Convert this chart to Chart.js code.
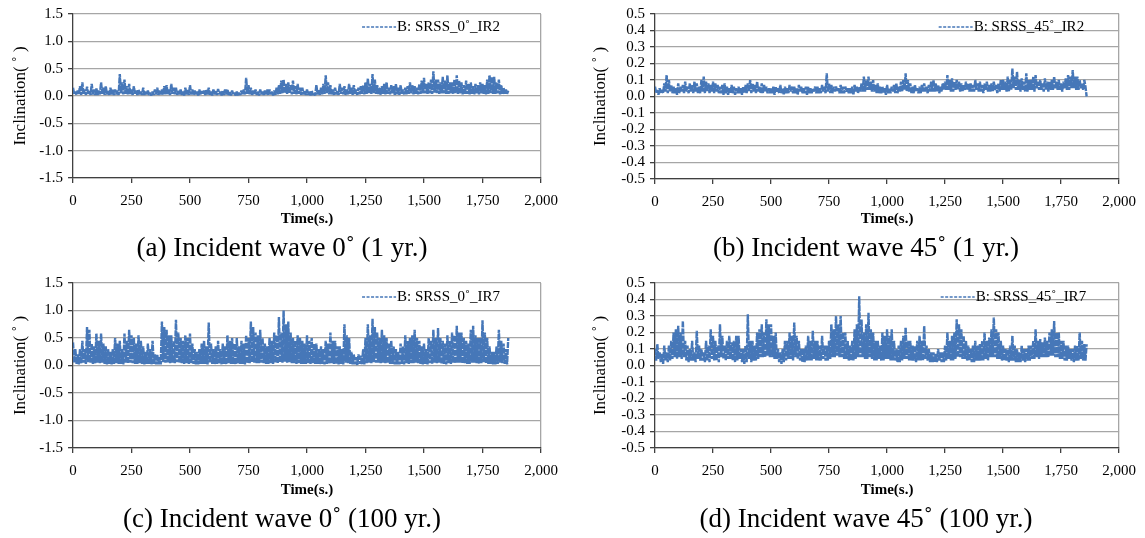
<!DOCTYPE html>
<html>
<head>
<meta charset="utf-8">
<script src="https://cdn.jsdelivr.net/npm/chart.js@4.4.1/dist/chart.umd.min.js"></script>
<style>
  html, body { margin: 0; padding: 0; background: #ffffff; }
  body { position: relative; width: 1145px; height: 538px; overflow: hidden; font-family: "Liberation Serif", "Times New Roman", serif; }
  .panel { position: absolute; }
  .panel canvas { display: block; }
  .caption { position: absolute; font-size: 27px; line-height: 30px; color: #000; white-space: nowrap; transform: translateX(-50%); }
</style>
</head>
<body>
<div class="panel" id="panelA"><canvas id="chartA"></canvas></div>
<div class="panel" id="panelB"><canvas id="chartB"></canvas></div>
<div class="panel" id="panelC"><canvas id="chartC"></canvas></div>
<div class="panel" id="panelD"><canvas id="chartD"></canvas></div>
<div class="caption" style="left:282px; top:232px;">(a) Incident wave 0˚ (1 yr.)</div>
<div class="caption" style="left:866px; top:232px;">(b) Incident wave 45˚ (1 yr.)</div>
<div class="caption" style="left:282px; top:503px;">(c) Incident wave 0˚ (100 yr.)</div>
<div class="caption" style="left:866px; top:503px;">(d) Incident wave 45˚ (100 yr.)</div>

<script>
// Sampling interval of the recorded inclination signals (seconds)
const SAMPLE_STEP_S = 5;

// Time axis ticks (s)
const timeTicks = [0, 250, 500, 750, 1000, 1250, 1500, 1750, 2000];
// Inclination axis ticks (deg)
const inclTicksWide = [-1.5, -1.0, -0.5, 0.0, 0.5, 1.0, 1.5];
const inclTicksNarrow = [-0.5, -0.4, -0.3, -0.2, -0.1, 0.0, 0.1, 0.2, 0.3, 0.4, 0.5];

// Series labels
const labelA = 'B: SRSS_0˚_IR2';
const labelB = 'B: SRSS_45˚_IR2';
const labelC = 'B: SRSS_0˚_IR7';
const labelD = 'B: SRSS_45˚_IR7';

// SRSS inclination, incident wave 0°, 1-year condition (deg), t = 0 ... 1860 s, one row per 100 s
const srss0IR2 = [
  0.15,0.03,0.08,0.02,0.10,0.04,0.18,0.02,0.25,0.03,0.12,0.02,0.17,0.04,0.09,0.02,0.22,0.03,0.12,0.02,
  0.14,0.02,0.10,0.03,0.25,0.04,0.15,0.02,0.18,0.03,0.09,0.02,0.15,0.03,0.12,0.02,0.12,0.03,0.10,0.02,
  0.40,0.05,0.25,0.03,0.30,0.04,0.18,0.02,0.22,0.03,0.12,0.02,0.18,0.03,0.10,0.02,0.12,0.03,0.08,0.02,
  0.15,0.02,0.08,0.03,0.10,0.02,0.06,0.01,0.08,0.02,0.12,0.03,0.15,0.02,0.10,0.03,0.12,0.02,0.18,0.03,
  0.20,0.03,0.12,0.02,0.22,0.04,0.15,0.03,0.15,0.02,0.10,0.03,0.12,0.02,0.08,0.01,0.15,0.03,0.12,0.02,
  0.20,0.03,0.12,0.02,0.10,0.03,0.08,0.01,0.12,0.02,0.09,0.03,0.10,0.02,0.12,0.03,0.15,0.02,0.08,0.01,
  0.12,0.03,0.10,0.02,0.13,0.03,0.08,0.01,0.10,0.02,0.12,0.03,0.12,0.02,0.07,0.01,0.10,0.02,0.06,0.01,
  0.08,0.01,0.06,0.02,0.10,0.02,0.12,0.03,0.33,0.04,0.20,0.03,0.15,0.02,0.10,0.03,0.12,0.02,0.09,0.01,
  0.12,0.03,0.08,0.02,0.10,0.03,0.12,0.02,0.12,0.03,0.08,0.01,0.10,0.02,0.15,0.03,0.20,0.04,0.28,0.05,
  0.30,0.05,0.22,0.04,0.25,0.05,0.20,0.03,0.28,0.04,0.18,0.03,0.22,0.04,0.15,0.02,0.15,0.03,0.10,0.02,
  0.12,0.02,0.08,0.01,0.10,0.02,0.06,0.01,0.20,0.03,0.12,0.02,0.15,0.03,0.22,0.04,0.38,0.05,0.25,0.03,
  0.20,0.03,0.12,0.02,0.15,0.03,0.10,0.02,0.22,0.04,0.15,0.03,0.18,0.02,0.12,0.03,0.22,0.04,0.15,0.02,
  0.20,0.03,0.12,0.02,0.15,0.03,0.18,0.04,0.20,0.03,0.25,0.04,0.32,0.05,0.22,0.04,0.40,0.05,0.30,0.04,
  0.20,0.03,0.15,0.02,0.18,0.04,0.22,0.03,0.25,0.04,0.15,0.03,0.20,0.04,0.18,0.02,0.22,0.03,0.15,0.02,
  0.20,0.04,0.12,0.03,0.15,0.03,0.18,0.04,0.25,0.05,0.20,0.03,0.18,0.04,0.15,0.03,0.22,0.04,0.28,0.05,
  0.33,0.05,0.22,0.04,0.25,0.05,0.30,0.04,0.45,0.06,0.30,0.05,0.30,0.04,0.25,0.05,0.35,0.05,0.28,0.04,
  0.38,0.04,0.25,0.05,0.25,0.04,0.30,0.05,0.38,0.04,0.28,0.05,0.25,0.03,0.20,0.04,0.28,0.04,0.22,0.03,
  0.25,0.04,0.18,0.03,0.22,0.04,0.20,0.03,0.25,0.05,0.22,0.04,0.20,0.03,0.30,0.04,0.38,0.05,0.35,0.04,
  0.35,0.04,0.25,0.05,0.30,0.03,0.20,0.04,0.15,0.03,0.12,0.04,0.10
];

// SRSS inclination, incident wave 45°, 1-year condition (deg)
const srss45IR2 = [
  0.06,0.02,0.04,0.01,0.05,0.02,0.04,0.02,0.08,0.03,0.13,0.02,0.10,0.03,0.07,0.02,0.06,0.02,0.05,0.01,
  0.08,0.02,0.06,0.03,0.07,0.02,0.09,0.03,0.06,0.02,0.08,0.03,0.07,0.02,0.09,0.03,0.08,0.02,0.06,0.02,
  0.10,0.03,0.12,0.02,0.09,0.03,0.08,0.02,0.07,0.03,0.09,0.02,0.08,0.03,0.07,0.02,0.06,0.02,0.07,0.01,
  0.08,0.02,0.06,0.01,0.05,0.02,0.07,0.02,0.06,0.01,0.05,0.02,0.06,0.02,0.05,0.01,0.06,0.02,0.07,0.02,
  0.08,0.03,0.10,0.02,0.08,0.03,0.07,0.02,0.09,0.03,0.06,0.02,0.08,0.02,0.07,0.03,0.06,0.02,0.05,0.02,
  0.05,0.02,0.06,0.01,0.06,0.03,0.05,0.02,0.07,0.02,0.05,0.01,0.06,0.02,0.05,0.02,0.07,0.03,0.06,0.02,
  0.06,0.02,0.05,0.01,0.07,0.03,0.06,0.02,0.05,0.02,0.06,0.01,0.06,0.02,0.05,0.02,0.05,0.03,0.06,0.02,
  0.06,0.02,0.05,0.02,0.07,0.03,0.06,0.02,0.14,0.03,0.08,0.02,0.07,0.02,0.06,0.03,0.06,0.03,0.05,0.02,
  0.07,0.02,0.06,0.02,0.06,0.03,0.05,0.02,0.05,0.02,0.06,0.01,0.07,0.03,0.06,0.02,0.06,0.03,0.08,0.03,
  0.12,0.03,0.10,0.04,0.12,0.04,0.09,0.03,0.10,0.03,0.07,0.02,0.08,0.02,0.06,0.02,0.06,0.02,0.05,0.01,
  0.07,0.02,0.05,0.02,0.06,0.03,0.07,0.02,0.08,0.02,0.06,0.03,0.09,0.03,0.10,0.04,0.14,0.03,0.10,0.03,
  0.08,0.02,0.06,0.02,0.07,0.03,0.05,0.02,0.06,0.02,0.07,0.03,0.08,0.03,0.06,0.02,0.07,0.03,0.09,0.03,
  0.10,0.03,0.08,0.03,0.07,0.02,0.06,0.03,0.08,0.04,0.09,0.04,0.13,0.04,0.10,0.03,0.11,0.03,0.09,0.04,
  0.10,0.04,0.09,0.03,0.08,0.03,0.07,0.04,0.09,0.04,0.08,0.03,0.08,0.03,0.07,0.03,0.10,0.04,0.08,0.03,
  0.09,0.03,0.07,0.02,0.08,0.04,0.09,0.03,0.07,0.03,0.08,0.03,0.09,0.04,0.07,0.02,0.08,0.03,0.10,0.04,
  0.10,0.04,0.09,0.03,0.12,0.03,0.10,0.04,0.17,0.05,0.12,0.04,0.15,0.04,0.10,0.03,0.11,0.04,0.09,0.03,
  0.14,0.03,0.10,0.04,0.10,0.04,0.12,0.03,0.13,0.05,0.09,0.04,0.10,0.04,0.08,0.03,0.11,0.04,0.09,0.03,
  0.09,0.04,0.10,0.04,0.12,0.05,0.09,0.04,0.10,0.04,0.08,0.03,0.09,0.05,0.11,0.04,0.13,0.04,0.12,0.05,
  0.16,0.05,0.12,0.04,0.12,0.04,0.10,0.05,0.08,0.04,0.10,0.06,0.00
];

// SRSS inclination, incident wave 0°, 100-year condition (deg)
const srss0IR7 = [
  0.42,0.05,0.30,0.03,0.20,0.02,0.30,0.04,0.45,0.05,0.30,0.03,0.70,0.06,0.65,0.05,0.40,0.03,0.35,0.04,
  0.58,0.05,0.45,0.04,0.58,0.05,0.40,0.03,0.35,0.02,0.30,0.03,0.25,0.02,0.30,0.03,0.50,0.04,0.40,0.03,
  0.45,0.03,0.30,0.02,0.58,0.05,0.45,0.04,0.65,0.05,0.55,0.04,0.50,0.03,0.40,0.03,0.55,0.04,0.45,0.03,
  0.35,0.02,0.25,0.03,0.40,0.03,0.30,0.02,0.45,0.03,0.20,0.02,0.20,0.02,0.15,0.02,0.80,0.06,0.70,0.05,
  0.65,0.05,0.55,0.04,0.55,0.05,0.45,0.04,0.83,0.06,0.60,0.05,0.50,0.04,0.45,0.03,0.55,0.04,0.50,0.03,
  0.58,0.04,0.40,0.03,0.30,0.02,0.25,0.02,0.30,0.03,0.40,0.03,0.45,0.03,0.35,0.02,0.78,0.05,0.40,0.03,
  0.30,0.02,0.35,0.03,0.45,0.04,0.30,0.02,0.40,0.03,0.35,0.02,0.55,0.04,0.45,0.03,0.50,0.03,0.40,0.02,
  0.50,0.04,0.35,0.03,0.45,0.03,0.40,0.02,0.55,0.04,0.50,0.04,0.80,0.06,0.70,0.05,0.60,0.04,0.55,0.04,
  0.65,0.05,0.50,0.04,0.40,0.03,0.35,0.03,0.50,0.04,0.45,0.03,0.60,0.05,0.55,0.04,0.88,0.06,0.60,0.05,
  1.00,0.07,0.75,0.05,0.80,0.06,0.60,0.04,0.50,0.04,0.45,0.03,0.55,0.04,0.50,0.03,0.45,0.03,0.40,0.03,
  0.55,0.04,0.45,0.03,0.50,0.04,0.40,0.03,0.40,0.03,0.30,0.02,0.35,0.03,0.30,0.02,0.45,0.03,0.40,0.03,
  0.60,0.04,0.45,0.03,0.45,0.03,0.35,0.02,0.35,0.03,0.30,0.02,0.75,0.05,0.55,0.04,0.50,0.03,0.25,0.02,
  0.20,0.02,0.15,0.01,0.20,0.03,0.18,0.02,0.30,0.02,0.50,0.04,0.75,0.05,0.55,0.04,0.85,0.06,0.70,0.05,
  0.60,0.05,0.50,0.04,0.65,0.05,0.55,0.04,0.50,0.04,0.40,0.03,0.45,0.03,0.35,0.02,0.30,0.02,0.25,0.02,
  0.40,0.03,0.35,0.02,0.55,0.04,0.45,0.03,0.50,0.04,0.55,0.04,0.65,0.05,0.50,0.04,0.45,0.03,0.35,0.02,
  0.40,0.03,0.30,0.02,0.50,0.04,0.45,0.03,0.65,0.05,0.50,0.04,0.68,0.05,0.50,0.03,0.45,0.03,0.40,0.02,
  0.55,0.04,0.45,0.03,0.60,0.05,0.55,0.04,0.72,0.05,0.60,0.05,0.60,0.04,0.50,0.04,0.45,0.03,0.40,0.03,
  0.65,0.05,0.72,0.05,0.55,0.04,0.50,0.03,0.50,0.04,0.82,0.06,0.60,0.04,0.50,0.03,0.35,0.03,0.25,0.02,
  0.25,0.02,0.35,0.03,0.65,0.05,0.45,0.04,0.40,0.03,0.30,0.02,0.50
];

// SRSS inclination, incident wave 45°, 100-year condition (deg)
const srss45IR7 = [
  0.10,0.03,0.13,0.04,0.08,0.02,0.07,0.01,0.12,0.03,0.08,0.02,0.12,0.03,0.15,0.04,0.20,0.05,0.22,0.04,
  0.24,0.05,0.20,0.04,0.27,0.05,0.15,0.03,0.12,0.02,0.10,0.03,0.15,0.03,0.08,0.02,0.21,0.04,0.12,0.03,
  0.10,0.03,0.08,0.02,0.15,0.03,0.12,0.02,0.22,0.04,0.18,0.03,0.15,0.03,0.12,0.02,0.25,0.05,0.18,0.04,
  0.12,0.03,0.15,0.04,0.18,0.04,0.14,0.03,0.15,0.02,0.18,0.03,0.18,0.04,0.10,0.02,0.10,0.01,0.12,0.02,
  0.31,0.04,0.15,0.02,0.15,0.03,0.12,0.03,0.20,0.04,0.22,0.05,0.25,0.05,0.20,0.05,0.28,0.06,0.25,0.05,
  0.25,0.05,0.18,0.04,0.20,0.04,0.10,0.02,0.08,0.01,0.10,0.02,0.15,0.03,0.15,0.04,0.20,0.04,0.18,0.03,
  0.26,0.05,0.18,0.04,0.15,0.03,0.10,0.02,0.10,0.02,0.12,0.03,0.18,0.03,0.15,0.03,0.21,0.04,0.15,0.03,
  0.15,0.03,0.12,0.03,0.18,0.04,0.12,0.03,0.12,0.03,0.15,0.04,0.25,0.05,0.22,0.05,0.30,0.06,0.25,0.05,
  0.30,0.05,0.20,0.04,0.20,0.04,0.15,0.03,0.12,0.03,0.15,0.03,0.22,0.04,0.25,0.05,0.42,0.05,0.28,0.05,
  0.20,0.04,0.25,0.04,0.32,0.05,0.22,0.04,0.20,0.03,0.15,0.03,0.15,0.04,0.12,0.03,0.20,0.03,0.18,0.04,
  0.22,0.04,0.18,0.03,0.22,0.03,0.15,0.03,0.10,0.02,0.12,0.02,0.15,0.03,0.18,0.04,0.23,0.04,0.15,0.03,
  0.15,0.03,0.12,0.03,0.12,0.02,0.15,0.03,0.18,0.03,0.15,0.03,0.24,0.04,0.12,0.03,0.10,0.02,0.08,0.02,
  0.08,0.02,0.07,0.02,0.10,0.03,0.08,0.02,0.08,0.02,0.12,0.03,0.20,0.04,0.15,0.03,0.18,0.03,0.20,0.04,
  0.28,0.05,0.25,0.05,0.22,0.04,0.18,0.04,0.15,0.03,0.12,0.03,0.10,0.02,0.12,0.02,0.15,0.03,0.12,0.03,
  0.13,0.03,0.15,0.03,0.20,0.04,0.15,0.03,0.17,0.05,0.22,0.05,0.29,0.05,0.22,0.04,0.20,0.04,0.15,0.03,
  0.12,0.03,0.10,0.03,0.10,0.02,0.12,0.03,0.18,0.03,0.12,0.02,0.10,0.02,0.08,0.02,0.12,0.03,0.10,0.02,
  0.10,0.03,0.12,0.03,0.12,0.04,0.15,0.04,0.22,0.05,0.15,0.04,0.16,0.05,0.14,0.05,0.17,0.05,0.15,0.05,
  0.20,0.06,0.22,0.06,0.27,0.05,0.20,0.05,0.20,0.04,0.15,0.04,0.15,0.03,0.12,0.03,0.12,0.04,0.10,0.03,
  0.10,0.02,0.12,0.03,0.12,0.03,0.20,0.04,0.15,0.03,0.13,0.03,0.13
];

const LINE_COLOR = '#4677b8';
const GRID_COLOR = '#a6a6a6';
const AXIS_COLOR = '#404040';
const FONT_FAMILY = 'Liberation Serif, Times New Roman, serif';

Chart.defaults.font.family = FONT_FAMILY;
Chart.defaults.color = '#000';

// Dashed series key drawn inside the upper-right corner of the plot area
const seriesKey = {
  id: 'seriesKey',
  afterDatasetsDraw(chart, args, opts) {
    const { ctx, chartArea } = chart;
    const ds = chart.data.datasets[0];
    ctx.save();
    ctx.font = '15px ' + FONT_FAMILY;
    const textW = ctx.measureText(ds.label).width;
    const y = chartArea.top + opts.dy;
    const xText = chartArea.right - opts.rightGap - textW;
    ctx.strokeStyle = ds.borderColor;
    ctx.lineWidth = 1.5;
    ctx.setLineDash([3, 1.5]);
    ctx.beginPath();
    ctx.moveTo(xText - 35, y);
    ctx.lineTo(xText - 1, y);
    ctx.stroke();
    ctx.setLineDash([]);
    ctx.fillStyle = '#000';
    ctx.textBaseline = 'middle';
    ctx.textAlign = 'left';
    ctx.fillText(ds.label, xText, y);
    ctx.restore();
  }
};

function buildChart(canvasId, panelId, values, label, yTicks, geo, keyPos) {
  const panel = document.getElementById(panelId);
  panel.style.left = geo.left + 'px';
  panel.style.top = geo.top + 'px';
  const canvas = document.getElementById(canvasId);
  canvas.width = geo.width;
  canvas.height = geo.height;

  const points = values.map((v, i) => ({ x: i * SAMPLE_STEP_S, y: v }));
  const yAxisWidth = geo.plotL - geo.left;
  const xAxisHeight = geo.top + geo.height - geo.plotB;
  const yMin = yTicks[0], yMax = yTicks[yTicks.length - 1];

  return new Chart(canvas, {
    type: 'line',
    data: {
      datasets: [{
        label: label,
        data: points,
        borderColor: LINE_COLOR,
        borderWidth: 2.4,
        borderDash: [6, 1],
        borderJoinStyle: 'bevel',
        borderCapStyle: 'butt',
        pointRadius: 0,
        tension: 0,
        fill: false
      }]
    },
    options: {
      responsive: false,
      animation: false,
      devicePixelRatio: 1,
      layout: {
        padding: { left: 0, top: geo.plotT - geo.top, right: geo.left + geo.width - geo.plotR, bottom: 0 }
      },
      plugins: {
        legend: { display: false },
        tooltip: { enabled: false },
        seriesKey: keyPos
      },
      scales: {
        x: {
          type: 'linear',
          min: 0,
          max: 2000,
          afterBuildTicks: (scale) => { scale.ticks = timeTicks.map(v => ({ value: v })); },
          afterFit: (scale) => { scale.height = xAxisHeight; },
          ticks: {
            color: '#000',
            font: { family: FONT_FAMILY, size: 15 },
            padding: 9,
            maxRotation: 0,
            autoSkip: false,
            callback: (v) => Number(v).toLocaleString('en-US')
          },
          grid: {
            drawOnChartArea: true,
            color: (c) => (c.tick && c.tick.value === 2000 ? GRID_COLOR : 'rgba(0,0,0,0)'),
            lineWidth: 1.3,
            drawTicks: true,
            tickLength: 5,
            tickColor: AXIS_COLOR,
            tickWidth: 1.3
          },
          border: { display: true, color: AXIS_COLOR, width: 1.3 },
          title: {
            display: true,
            text: 'Time(s.)',
            color: '#000',
            font: { family: FONT_FAMILY, size: 15, weight: 'bold' },
            padding: { top: 0, bottom: geo.titlePad }
          }
        },
        y: {
          type: 'linear',
          min: yMin,
          max: yMax,
          afterBuildTicks: (scale) => { scale.ticks = yTicks.map(v => ({ value: v })); },
          afterFit: (scale) => { scale.width = yAxisWidth; },
          ticks: {
            color: '#000',
            font: { family: FONT_FAMILY, size: 15 },
            padding: 5,
            autoSkip: false,
            callback: (v) => Number(v).toFixed(1)
          },
          grid: {
            color: GRID_COLOR,
            lineWidth: 1.3,
            drawTicks: true,
            tickLength: 5,
            tickColor: AXIS_COLOR,
            tickWidth: 1.3
          },
          border: { display: true, color: AXIS_COLOR, width: 1.3 },
          title: {
            display: true,
            text: 'Inclination( ˚ )',
            color: '#000',
            font: { family: FONT_FAMILY, size: 17 },
            padding: { top: 10, bottom: 0 }
          }
        }
      }
    },
    plugins: [seriesKey]
  });
}

function drawAll() {
  buildChart('chartA', 'panelA', srss0IR2, labelA, inclTicksWide,
    { left: 0, top: 0, width: 570, height: 240, plotL: 73, plotR: 541, plotT: 14, plotB: 178, titlePad: 12 },
    { dy: 13, rightGap: 41 });
  buildChart('chartB', 'panelB', srss45IR2, labelB, inclTicksNarrow,
    { left: 580, top: 0, width: 565, height: 240, plotL: 655, plotR: 1120, plotT: 14, plotB: 179, titlePad: 12 },
    { dy: 13, rightGap: 35 });
  buildChart('chartC', 'panelC', srss0IR7, labelC, inclTicksWide,
    { left: 0, top: 269, width: 570, height: 240, plotL: 73, plotR: 541, plotT: 283, plotB: 448, titlePad: 10 },
    { dy: 14, rightGap: 41 });
  buildChart('chartD', 'panelD', srss45IR7, labelD, inclTicksNarrow,
    { left: 580, top: 269, width: 565, height: 240, plotL: 655, plotR: 1120, plotT: 283, plotB: 448, titlePad: 10 },
    { dy: 14, rightGap: 33 });
}

// Make sure the serif face is available to the canvases before drawing
Promise.all([
  document.fonts.load('15px "Liberation Serif"'),
  document.fonts.load('bold 15px "Liberation Serif"')
]).catch(() => {}).then(drawAll);
</script>
</body>
</html>
